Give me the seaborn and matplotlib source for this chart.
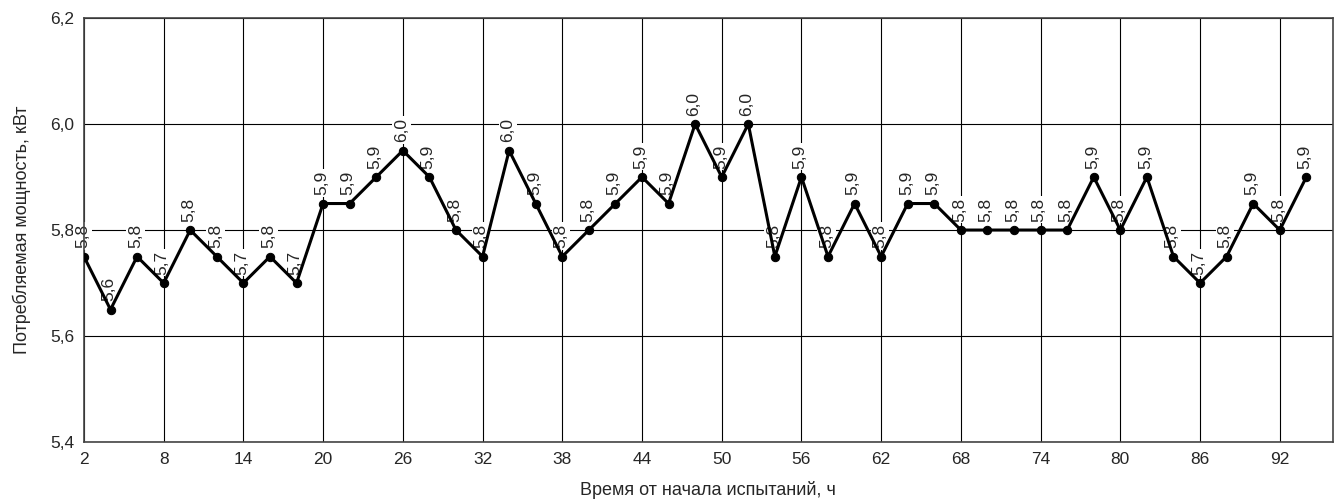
import numpy as np
import pandas as pd
import matplotlib
matplotlib.use("Agg")
import matplotlib.pyplot as plt
import seaborn as sns

# Hours since start of test and consumed power, kW
hours = list(range(2, 96, 2))
power = [5.75, 5.65, 5.75, 5.70, 5.80, 5.75, 5.70, 5.75, 5.70, 5.85,
         5.85, 5.90, 5.95, 5.90, 5.80, 5.75, 5.95, 5.85, 5.75, 5.80,
         5.85, 5.90, 5.85, 6.00, 5.90, 6.00, 5.75, 5.90, 5.75, 5.85,
         5.75, 5.85, 5.85, 5.80, 5.80, 5.80, 5.80, 5.80, 5.90, 5.80,
         5.90, 5.75, 5.70, 5.75, 5.85, 5.80, 5.90]
point_labels = ["5,8", "5,6", "5,8", "5,7", "5,8", "5,8", "5,7", "5,8", "5,7", "5,9",
                "5,9", "5,9", "6,0", "5,9", "5,8", "5,8", "6,0", "5,9", "5,8", "5,8",
                "5,9", "5,9", "5,9", "6,0", "5,9", "6,0", "5,8", "5,9", "5,8", "5,9",
                "5,8", "5,9", "5,9", "5,8", "5,8", "5,8", "5,8", "5,8", "5,9", "5,8",
                "5,9", "5,8", "5,7", "5,8", "5,9", "5,8", "5,9"]
x_ticks = list(range(2, 96, 6))
y_ticks = [5.4, 5.6, 5.8, 6.0, 6.2]
y_tick_labels = ["5,4", "5,6", "5,8", "6,0", "6,2"]

df = pd.DataFrame({"hours": hours, "power": power})

sns.set_theme(style="whitegrid")
plt.rcParams['font.family'] = ['Liberation Sans', 'DejaVu Sans']

fig = plt.figure(figsize=(13.43, 4.99), dpi=100)
ax = fig.add_axes([0.0625, 0.114, 0.93, 0.85])
ax.set_axisbelow(True)

sns.lineplot(data=df, x="hours", y="power", ax=ax, color="black",
             linewidth=2.2, marker="o", markersize=6, markeredgecolor="black",
             zorder=3)

# value labels sit over the grid but under the line
for h, p, lab in zip(hours, power, point_labels):
    ax.annotate(lab, (h, p), xytext=(-1, 6), textcoords="offset points",
                rotation=90, ha="center", va="bottom", fontsize=12.5,
                bbox=dict(boxstyle="square,pad=0.1", fc="white", ec="none"),
                zorder=2)

ax.set_xlim(2, 96)
ax.set_ylim(5.4, 6.2)
ax.set_xticks(x_ticks)
ax.set_xticklabels([str(t) for t in x_ticks])
ax.set_yticks(y_ticks)
ax.set_yticklabels(y_tick_labels)
ax.tick_params(labelsize=12.5, length=0, pad=7)
ax.grid(True, color="black", linewidth=0.8)
for s in ax.spines.values():
    s.set_color("#444444")
    s.set_linewidth(1.2)

ax.set_xlabel("Время от начала испытаний, ч", fontsize=13, labelpad=10)
ax.set_ylabel("Потребляемая мощность, кВт", fontsize=13, labelpad=14)

fig.savefig("out.png", dpi=100)
